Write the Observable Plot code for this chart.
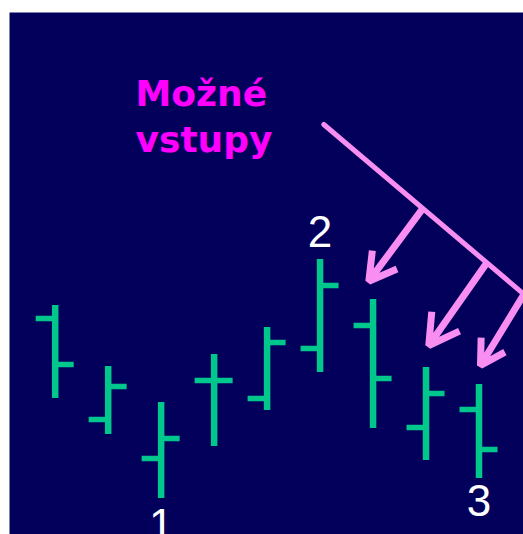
<!DOCTYPE html>
<html>
<head>
<meta charset="utf-8">
<script src="https://cdn.jsdelivr.net/npm/d3@7"></script>
<script src="https://cdn.jsdelivr.net/npm/@observablehq/plot@0.6"></script>
<style>
  html, body { margin: 0; padding: 0; background: #ffffff; }
</style>
</head>
<body>
<div id="chart"></div>
<script>
// OHLC bars (day index, price units)
const days  = [1, 2, 3, 4, 5, 6, 7, 8, 9];
const open  = [216, 115, 76, 154, 136, 186, 209, 107, 125];
const high  = [229, 168, 132, 180, 207, 275, 235, 167, 150];
const low   = [136, 100, 36, 88, 124, 162, 106, 74, 56];
const close = [170, 148, 96, 154, 192, 249, 156, 141, 85];

// swing labels
const labelText = ["1", "2", "3"];
const labelX    = [3, 6, 9];
const labelY    = [-5.5, 287.3, 19];

// annotation text
const noteText = "Možné\nvstupy";
const noteX = 2.516;
const noteY = 382.3;

// trend line (data coords)
const trendX = [6.070, 10.2];
const trendY = [410, 224.5];

// entry arrows (start on trend line -> tip)
const arrowX1 = [7.958, 9.155, 9.849];
const arrowY1 = [327.3, 272.3, 240.3];
const arrowX2 = [6.920, 8.052, 9.028];
const arrowY2 = [253.3, 189, 169];

const bars = days.map((d, i) => ({day: d, open: open[i], high: high[i], low: low[i], close: close[i]}));
const labels = labelText.map((t, i) => ({t, x: labelX[i], y: labelY[i]}));
const trend = trendX.map((x, i) => ({x, y: trendY[i]}));
const arrows = arrowX1.map((x, i) => ({x1: x, y1: arrowY1[i], x2: arrowX2[i], y2: arrowY2[i]}));

const green = "#00c88c";
const pink = "#f98ef2";
const tick = 19;

const chart = Plot.plot({
  width: 523,
  height: 534,
  marginLeft: 9,
  marginTop: 12,
  marginRight: 0,
  marginBottom: 0,
  x: {domain: [1, 9], range: [54.7, 478.5], axis: null},
  y: {domain: [0, 534], range: [534, 0], axis: null},
  marks: [
    Plot.frame({fill: "#03005c", stroke: null}),
    Plot.ruleX(bars, {x: "day", y1: "low", y2: "high", stroke: green, strokeWidth: 6.5}),
    Plot.ruleY(bars, {y: "open", x1: "day", x2: "day", insetLeft: -tick, stroke: green, strokeWidth: 5.5}),
    Plot.ruleY(bars, {y: "close", x1: "day", x2: "day", insetRight: -tick, stroke: green, strokeWidth: 5.5}),
    Plot.line(trend, {x: "x", y: "y", stroke: pink, strokeWidth: 5, clip: true}),
    Plot.arrow(arrows, {x1: "x1", y1: "y1", x2: "x2", y2: "y2", stroke: pink, strokeWidth: 7, headLength: 9.5, headAngle: 60, strokeLinejoin: "miter", strokeLinecap: "butt", clip: true}),
    Plot.text(labels, {x: "x", y: "y", text: "t", fill: "#ffffff", fontSize: 44, fontFamily: "Liberation Sans, Arial, sans-serif", textAnchor: "middle", lineAnchor: "bottom", clip: true}),
    Plot.text([noteText], {x: noteX, y: noteY, text: d => d, fill: "#ff00ff", fontSize: 36, fontWeight: "bold", fontFamily: "DejaVu Sans, sans-serif", textAnchor: "start", lineAnchor: "bottom", lineHeight: 1.297})
  ]
});
document.getElementById("chart").appendChild(chart);
</script>
</body>
</html>
